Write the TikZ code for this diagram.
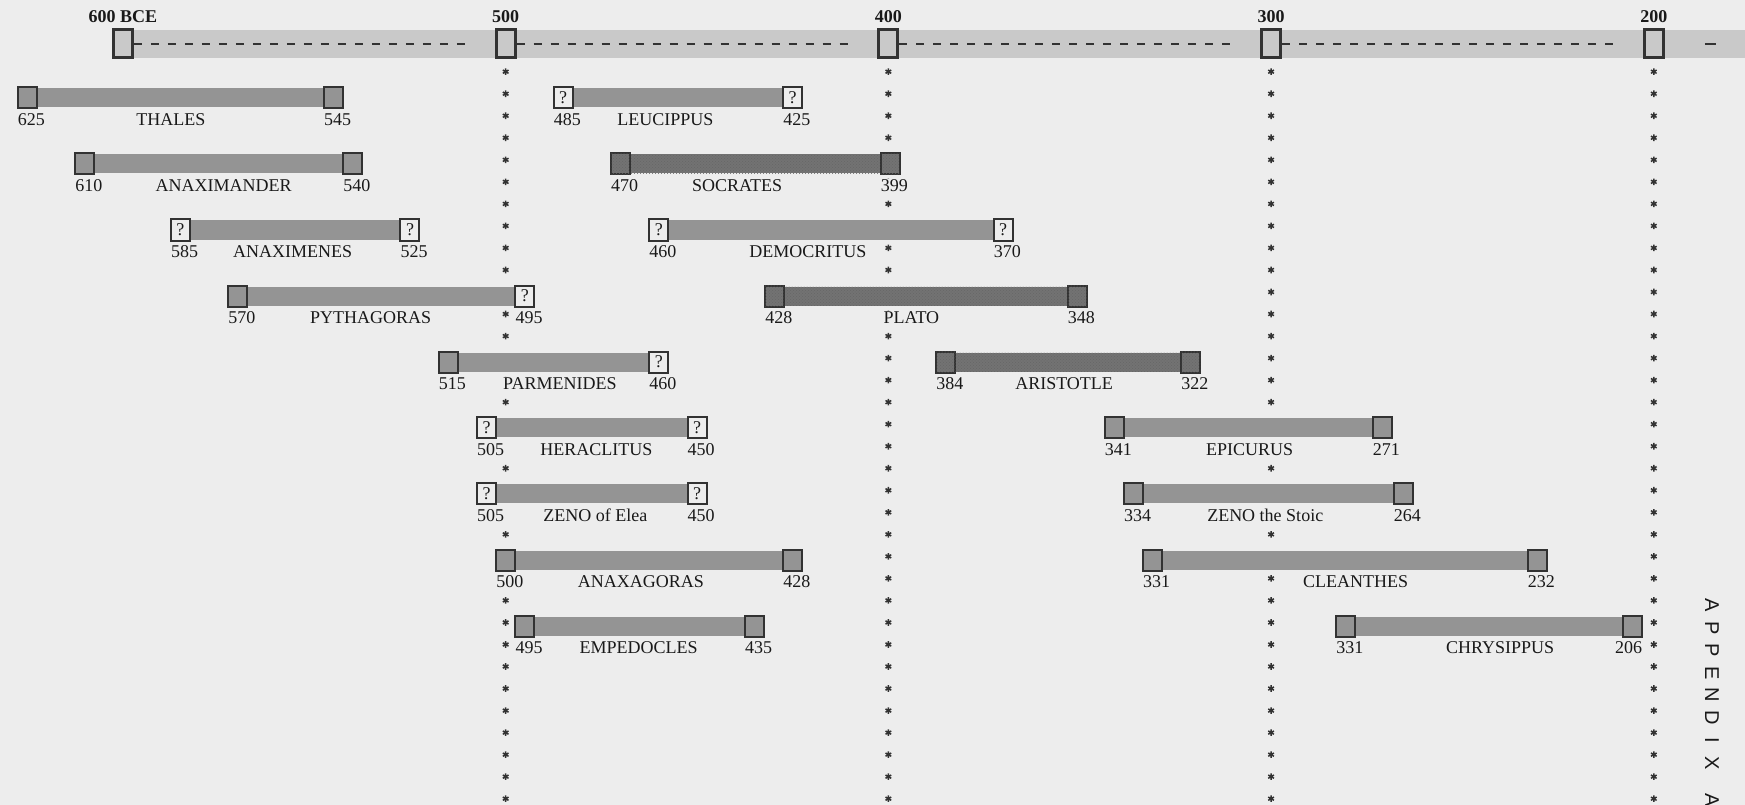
\documentclass[tikz,border=0pt]{standalone}
\usepackage{fontspec}
\setmainfont{Liberation Serif}
\newfontfamily\tabfont{Liberation Sans}
\usetikzlibrary{calc,backgrounds,patterns,decorations.markings}

\definecolor{paper}{RGB}{237,237,237}
\definecolor{bandgray}{RGB}{201,201,201}
\definecolor{bargray}{RGB}{148,148,148}
\definecolor{hatchgray}{RGB}{115,115,115}
\definecolor{ink}{RGB}{50,50,50}
\definecolor{textcol}{RGB}{25,25,25}

\begin{document}
\begin{tikzpicture}[
    x=-3.827pt, y=-1pt,
    txt/.style={font=\fontsize{18}{20}\selectfont, text=textcol},
    tick/.style={draw=ink, line width=3pt, fill=bandgray, minimum width=19pt, minimum height=28pt, inner sep=0pt},
    yearlbl/.style={font=\bfseries\fontsize{18}{20}\selectfont, text=textcol, anchor=base, yshift=5.5pt, inner sep=0pt},
    sq/.style={draw=ink, line width=2pt, minimum width=19pt, minimum height=21pt, inner sep=0pt},
    known/.style={sq, fill=bargray},
    unsure/.style={sq, fill=paper, txt},
    hatched/.style={sq, fill=hatchgray, postaction={pattern=crosshatch dots, pattern color=black!60}},
    bar/.style={fill=bargray},
    hbar/.style={fill=hatchgray, postaction={pattern=crosshatch dots, pattern color=black!60}},
    yr/.style={txt, anchor=base west, yshift=-16pt, xshift=-2pt, fill=paper, inner ysep=1pt, inner xsep=3pt},
    pname/.style={txt, anchor=base, yshift=-27.5pt, fill=paper, inner ysep=1pt, inner xsep=3pt},
    dashline/.style={draw=ink, line width=1.2pt, dash pattern=on 8pt off 9pt, shorten >=22pt},
    starline/.style={draw=ink, line width=1.5pt},
    stars/.style={decorate, decoration={markings, mark=between positions 0 and 1 step 22.03pt with {\draw[starline] (-3.3pt,0pt) -- (3.3pt,0pt) (-1.65pt,-2.85pt) -- (1.65pt,2.85pt) (-1.65pt,2.85pt) -- (1.65pt,-2.85pt);}}},
    tab/.style={font=\tabfont\fontsize{20}{20}\selectfont, text=textcol, rotate=-90, anchor=west, inner sep=0pt}
]
\useasboundingbox (632.14,0) rectangle (176.17,805);

% time line
\node[tick] (m600) at (600,44) {};
\node[tick] (m500) at (500,44) {};
\node[tick] (m400) at (400,44) {};
\node[tick] (m300) at (300,44) {};
\node[tick] (m200) at (200,44) {};
\node[yearlbl] (l600) at (m600.north) {600 BCE};
\node[yearlbl] (l500) at (m500.north) {500};
\node[yearlbl] (l400) at (m400.north) {400};
\node[yearlbl] (l300) at (m300.north) {300};
\node[yearlbl] (l200) at (m200.north) {200};
\coordinate (bandend) at (176.17,44);
\coordinate (bottom) at (0,805);
\draw[dashline] (m600) -- (m500);
\draw[dashline] (m500) -- (m400);
\draw[dashline] (m400) -- (m300);
\draw[dashline] (m300) -- (m200);
\draw[dashline, shorten >=0pt, dash pattern=on 0pt off 40pt on 11pt off 60pt] (m200) -- (bandend);

% left column
\node[known] (thales1) at (625,98) {};
\node[known] (thales2) at (545,98) {};
\fill[bar] ([yshift=-2pt]thales1.north east) rectangle ([yshift=2pt]thales2.south west);
\node[pname] (thales) at ($(thales1)!.469!(thales2)$) {THALES};
\node[yr] (thales-from) at (thales1.south west) {625};
\node[yr] (thales-to) at (thales2.south west) {545};

\node[known] (anaximander1) at (610,164) {};
\node[known] (anaximander2) at (540,164) {};
\fill[bar] ([yshift=-2pt]anaximander1.north east) rectangle ([yshift=2pt]anaximander2.south west);
\node[pname] (anaximander) at ($(anaximander1)!.519!(anaximander2)$) {ANAXIMANDER};
\node[yr] (anaximander-from) at (anaximander1.south west) {610};
\node[yr] (anaximander-to) at (anaximander2.south west) {540};

\node[unsure] (anaximenes1) at (585,230) {?};
\node[unsure] (anaximenes2) at (525,230) {?};
\fill[bar] ([yshift=-2pt]anaximenes1.north east) rectangle ([yshift=2pt]anaximenes2.south west);
\node[pname] (anaximenes) at ($(anaximenes1)!.489!(anaximenes2)$) {ANAXIMENES};
\node[yr] (anaximenes-from) at (anaximenes1.south west) {585};
\node[yr] (anaximenes-to) at (anaximenes2.south west) {525};

\node[known] (pythagoras1) at (570,296) {};
\node[unsure] (pythagoras2) at (495,296) {?};
\fill[bar] ([yshift=-2pt]pythagoras1.north east) rectangle ([yshift=2pt]pythagoras2.south west);
\node[pname] (pythagoras) at ($(pythagoras1)!.463!(pythagoras2)$) {PYTHAGORAS};
\node[yr] (pythagoras-from) at (pythagoras1.south west) {570};
\node[yr] (pythagoras-to) at (pythagoras2.south west) {495};

\node[known] (parmenides1) at (515,362) {};
\node[unsure] (parmenides2) at (460,362) {?};
\fill[bar] ([yshift=-2pt]parmenides1.north east) rectangle ([yshift=2pt]parmenides2.south west);
\node[pname] (parmenides) at ($(parmenides1)!.53!(parmenides2)$) {PARMENIDES};
\node[yr] (parmenides-from) at (parmenides1.south west) {515};
\node[yr] (parmenides-to) at (parmenides2.south west) {460};

\node[unsure] (heraclitus1) at (505,427.5) {?};
\node[unsure] (heraclitus2) at (450,427.5) {?};
\fill[bar] ([yshift=-2pt]heraclitus1.north east) rectangle ([yshift=2pt]heraclitus2.south west);
\node[pname] (heraclitus) at ($(heraclitus1)!.522!(heraclitus2)$) {HERACLITUS};
\node[yr, inner xsep=7pt, xshift=-4pt] (heraclitus-from) at (heraclitus1.south west) {505};
\node[yr] (heraclitus-to) at (heraclitus2.south west) {450};

\node[unsure] (zenoelea1) at (505,493.5) {?};
\node[unsure] (zenoelea2) at (450,493.5) {?};
\fill[bar] ([yshift=-2pt]zenoelea1.north east) rectangle ([yshift=2pt]zenoelea2.south west);
\node[pname] (zenoelea) at ($(zenoelea1)!.517!(zenoelea2)$) {ZENO of Elea};
\node[yr, inner xsep=7pt, xshift=-4pt] (zenoelea-from) at (zenoelea1.south west) {505};
\node[yr] (zenoelea-to) at (zenoelea2.south west) {450};

\node[known] (anaxagoras1) at (500,560) {};
\node[known] (anaxagoras2) at (425,560) {};
\fill[bar] ([yshift=-2pt]anaxagoras1.north east) rectangle ([yshift=2pt]anaxagoras2.south west);
\node[pname] (anaxagoras) at ($(anaxagoras1)!.471!(anaxagoras2)$) {ANAXAGORAS};
\node[yr] (anaxagoras-from) at (anaxagoras1.south west) {500};
\node[yr] (anaxagoras-to) at (anaxagoras2.south west) {428};

\node[known] (empedocles1) at (495,626) {};
\node[known] (empedocles2) at (435,626) {};
\fill[bar] ([yshift=-2pt]empedocles1.north east) rectangle ([yshift=2pt]empedocles2.south west);
\node[pname] (empedocles) at ($(empedocles1)!.496!(empedocles2)$) {EMPEDOCLES};
\node[yr] (empedocles-from) at (empedocles1.south west) {495};
\node[yr] (empedocles-to) at (empedocles2.south west) {435};

% right column
\node[unsure] (leucippus1) at (485,98) {?};
\node[unsure] (leucippus2) at (425,98) {?};
\fill[bar] ([yshift=-2pt]leucippus1.north east) rectangle ([yshift=2pt]leucippus2.south west);
\node[pname] (leucippus) at ($(leucippus1)!.446!(leucippus2)$) {LEUCIPPUS};
\node[yr] (leucippus-from) at (leucippus1.south west) {485};
\node[yr] (leucippus-to) at (leucippus2.south west) {425};

\node[hatched] (socrates1) at (470,164) {};
\node[hatched] (socrates2) at (399.5,164) {};
\fill[hbar] ([yshift=-2pt]socrates1.north east) rectangle ([yshift=2pt]socrates2.south west);
\node[pname] (socrates) at ($(socrates1)!.432!(socrates2)$) {SOCRATES};
\node[yr] (socrates-from) at (socrates1.south west) {470};
\node[yr] (socrates-to) at (socrates2.south west) {399};

\node[unsure] (democritus1) at (460,230) {?};
\node[unsure] (democritus2) at (370,230) {?};
\fill[bar] ([yshift=-2pt]democritus1.north east) rectangle ([yshift=2pt]democritus2.south west);
\node[pname] (democritus) at ($(democritus1)!.433!(democritus2)$) {DEMOCRITUS};
\node[yr] (democritus-from) at (democritus1.south west) {460};
\node[yr] (democritus-to) at (democritus2.south west) {370};

\node[hatched] (plato1) at (429.7,296) {};
\node[hatched] (plato2) at (350.7,296) {};
\fill[hbar] ([yshift=-2pt]plato1.north east) rectangle ([yshift=2pt]plato2.south west);
\node[pname] (plato) at ($(plato1)!.452!(plato2)$) {PLATO};
\node[yr] (plato-from) at (plato1.south west) {428};
\node[yr] (plato-to) at (plato2.south west) {348};

\node[hatched] (aristotle1) at (385,362) {};
\node[hatched] (aristotle2) at (321,362) {};
\fill[hbar] ([yshift=-2pt]aristotle1.north east) rectangle ([yshift=2pt]aristotle2.south west);
\node[pname] (aristotle) at ($(aristotle1)!.483!(aristotle2)$) {ARISTOTLE};
\node[yr] (aristotle-from) at (aristotle1.south west) {384};
\node[yr] (aristotle-to) at (aristotle2.south west) {322};

\node[known] (epicurus1) at (341,427.5) {};
\node[known] (epicurus2) at (271,427.5) {};
\fill[bar] ([yshift=-2pt]epicurus1.north east) rectangle ([yshift=2pt]epicurus2.south west);
\node[pname] (epicurus) at ($(epicurus1)!.506!(epicurus2)$) {EPICURUS};
\node[yr] (epicurus-from) at (epicurus1.south west) {341};
\node[yr] (epicurus-to) at (epicurus2.south west) {271};

\node[known] (zenostoic1) at (336,493.5) {};
\node[known] (zenostoic2) at (265.5,493.5) {};
\fill[bar] ([yshift=-2pt]zenostoic1.north east) rectangle ([yshift=2pt]zenostoic2.south west);
\node[pname] (zenostoic) at ($(zenostoic1)!.489!(zenostoic2)$) {ZENO the Stoic};
\node[yr] (zenostoic-from) at (zenostoic1.south west) {334};
\node[yr] (zenostoic-to) at (zenostoic2.south west) {264};

\node[known] (cleanthes1) at (331,560) {};
\node[known] (cleanthes2) at (230.5,560) {};
\fill[bar] ([yshift=-2pt]cleanthes1.north east) rectangle ([yshift=2pt]cleanthes2.south west);
\node[pname] (cleanthes) at ($(cleanthes1)!.528!(cleanthes2)$) {CLEANTHES};
\node[yr] (cleanthes-from) at (cleanthes1.south west) {331};
\node[yr] (cleanthes-to) at (cleanthes2.south west) {232};

\node[known] (chrysippus1) at (280.5,626) {};
\node[known] (chrysippus2) at (205.5,626) {};
\fill[bar] ([yshift=-2pt]chrysippus1.north east) rectangle ([yshift=2pt]chrysippus2.south west);
\node[pname] (chrysippus) at ($(chrysippus1)!.538!(chrysippus2)$) {CHRYSIPPUS};
\node[yr] (chrysippus-from) at (chrysippus1.south west) {331};
\node[yr, anchor=base east, xshift=4pt] (chrysippus-to) at (chrysippus2.south east) {206};

% tab on the page edge
\node[tab] (appx) at (184.8,593.75) {\makebox[22.5pt]{A}\makebox[22.5pt]{P}\makebox[22.5pt]{P}\makebox[22.5pt]{E}\makebox[22.5pt]{N}\makebox[22.5pt]{D}\makebox[22.5pt]{I}\makebox[22.5pt]{X}\hspace{15pt}\makebox[22.5pt]{A}};

% paper, band and the columns of stars
\begin{scope}[on background layer]
\fill[paper] (632.14,0) rectangle (176.17,805);
\fill[bandgray] ([yshift=14pt]m600.west) rectangle ([yshift=-14pt]bandend);
\path[stars] ([yshift=-12.2pt]m500.south) -- (m500 |- bottom);
\path[stars] ([yshift=-12.2pt]m400.south) -- (m400 |- bottom);
\path[stars] ([yshift=-12.2pt]m300.south) -- (m300 |- bottom);
\path[stars] ([yshift=-12.2pt]m200.south) -- (m200 |- bottom);
\end{scope}
\end{tikzpicture}
\end{document}
